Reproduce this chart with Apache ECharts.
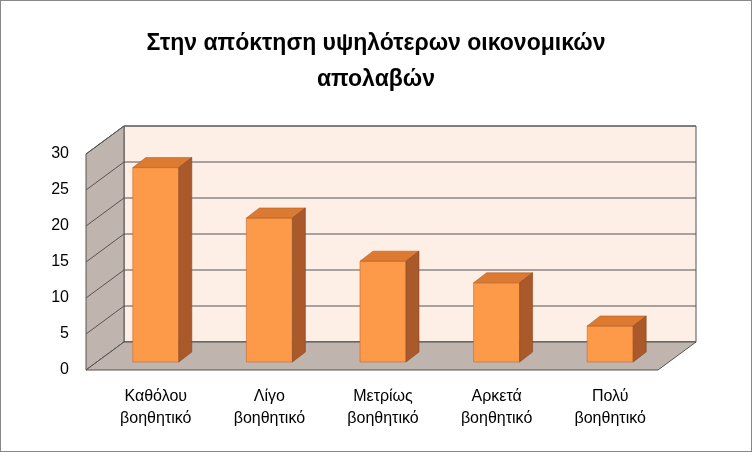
<!DOCTYPE html>
<html><head><meta charset="utf-8">
<script src="https://cdn.jsdelivr.net/npm/echarts@6/dist/echarts.min.js"></script>
<style>html,body{margin:0;padding:0;background:#fff}#c{width:752px;height:452px;box-sizing:border-box;border:1px solid #888}</style>
</head><body><div id="c"></div>
<script>
const categories = ['Καθόλου\nβοηθητικό','Λίγο\nβοηθητικό','Μετρίως\nβοηθητικό','Αρκετά\nβοηθητικό','Πολύ\nβοηθητικό'];
const values = [27, 20, 14, 11, 5];
const yTicks = [0, 5, 10, 15, 20, 25, 30];

const chart = echarts.init(document.getElementById('c'), null, {renderer:'canvas'});
const DX = 38, DY = -28;
function renderBar(params, api){
  const c = api.coord([api.value(0), api.value(1)]);
  const b = api.coord([api.value(0), 0]);
  const w = 46, dx = 13, dy = -10;
  const x = c[0]-23, top = c[1]-8, bot = b[1]-8;
  return {type:'group', children:[
    {type:'rect', shape:{x:x, y:top, width:w, height:bot-top}, style:{fill:'#fd9a4a', stroke:'#c76a25', lineWidth:0.6}},
    {type:'polygon', shape:{points:[[x,top],[x+w,top],[x+w+dx,top+dy],[x+dx,top+dy]]}, style:{fill:'#db7a30', stroke:'#b0602a', lineWidth:0.6}},
    {type:'polygon', shape:{points:[[x+w,top],[x+w+dx,top+dy],[x+w+dx,bot+dy],[x+w,bot]]}, style:{fill:'#a9592a', stroke:'#8a4a22', lineWidth:0.6}}
  ]};
}
const opt = {
  animation:false,
  title:{text:'Στην απόκτηση υψηλότερων οικονομικών\nαπολαβών', left:'center', top:20,
    textStyle:{fontFamily:'Liberation Sans', fontWeight:'bold', fontSize:23, lineHeight:36, color:'#000'}},
  grid:{left:98, right:84, top:153, bottom:81},
  xAxis:{type:'category', data:categories, axisLine:{show:false}, axisTick:{show:false},
    axisLabel:{margin:16, fontFamily:'Liberation Sans', fontSize:16, lineHeight:22, color:'#000', interval:0}},
  yAxis:{type:'value', min:0, max:30, interval:5, axisLine:{show:false}, splitLine:{show:false},
    axisLabel:{margin:30, fontFamily:'Liberation Sans', fontSize:16, color:'#000'}},
  series:[{type:'custom', renderItem:renderBar, data:values.map((v,i)=>[i,v]), z:10}]
};
chart.setOption(opt);
const p0 = chart.convertToPixel({yAxisIndex:0}, 0);
const p30 = chart.convertToPixel({yAxisIndex:0}, 30);
const fl = 85, fr = 657;
const g = [];
g.push({type:'polygon', shape:{points:[[fl+DX,p30+DY],[fr+DX,p30+DY],[fr+DX,p0+DY],[fl+DX,p0+DY]]}, style:{fill:'#fdeee6', stroke:'#555', lineWidth:1}, z:0});
yTicks.forEach(t=>{ const y = chart.convertToPixel({yAxisIndex:0}, t)+DY;
  g.push({type:'line', shape:{x1:fl+DX,y1:y,x2:fr+DX,y2:y}, style:{stroke:'#555', lineWidth:1}, z:1});
  g.push({type:'line', shape:{x1:fl,y1:y-DY,x2:fl+DX,y2:y}, style:{stroke:'#555', lineWidth:1}, z:2});
});
g.push({type:'polygon', shape:{points:[[fl,p30],[fl+DX,p30+DY],[fl+DX,p0+DY],[fl,p0]]}, style:{fill:'#c0b4ae', stroke:'#555', lineWidth:1}, z:1});
g.push({type:'polygon', shape:{points:[[fl,p0],[fl+DX,p0+DY],[fr+DX,p0+DY],[fr,p0]]}, style:{fill:'#c0b4ae', stroke:'#555', lineWidth:1}, z:3});
chart.setOption({graphic:{elements:g.map(e=>Object.assign(e,{silent:true}))}});
</script></body></html>
